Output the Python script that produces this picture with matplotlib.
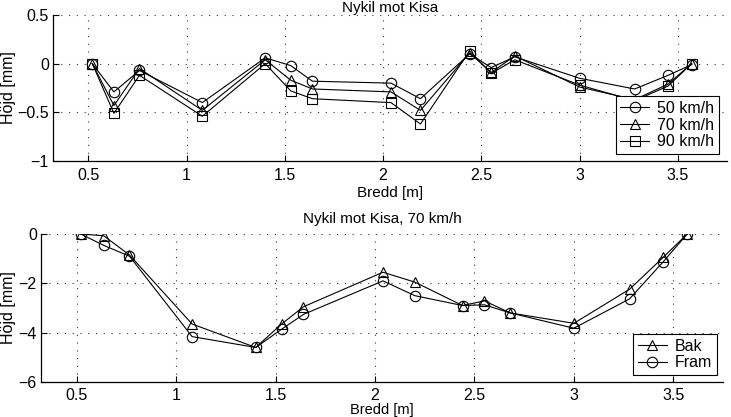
import matplotlib
matplotlib.use('Agg')
import matplotlib.pyplot as plt

plt.rcParams['font.family'] = ['Liberation Sans', 'DejaVu Sans']
plt.rcParams['font.size'] = 11
plt.rcParams['axes.unicode_minus'] = True

# top chart: three speeds
x_top = [0.52, 0.63, 0.76, 1.08, 1.40, 1.53, 1.64, 2.04, 2.19, 2.44, 2.55, 2.67, 3.00, 3.28, 3.45, 3.57]
v50 = [0.0, -0.29, -0.07, -0.40, 0.06, -0.02, -0.18, -0.20, -0.36, 0.10, -0.04, 0.07, -0.15, -0.26, -0.12, -0.01]
v70 = [0.0, -0.43, -0.05, -0.48, 0.04, -0.17, -0.26, -0.29, -0.48, 0.11, -0.09, 0.08, -0.24, -0.37, -0.21, 0.0]
v90 = [0.0, -0.51, -0.12, -0.54, 0.00, -0.28, -0.36, -0.40, -0.62, 0.13, -0.10, 0.04, -0.22, -0.38, -0.23, 0.0]
top_labels = ['50 km/h', '70 km/h', '90 km/h']
top_yticks = [-1, -0.5, 0, 0.5]

# bottom chart: 70 km/h, back and front
x_bot = [0.52, 0.635, 0.765, 1.08, 1.40, 1.53, 1.64, 2.04, 2.20, 2.44, 2.55, 2.68, 3.00, 3.28, 3.45, 3.57]
bak = [0.0, -0.07, -0.85, -3.65, -4.6, -3.65, -2.95, -1.55, -1.95, -2.9, -2.71, -3.2, -3.62, -2.24, -0.94, 0.0]
fram = [0.0, -0.46, -0.9, -4.16, -4.6, -3.86, -3.26, -1.9, -2.5, -2.9, -2.87, -3.2, -3.82, -2.63, -1.12, 0.0]
bot_labels = ['Bak', 'Fram']
bot_yticks = [-6, -4, -2, 0]

xticks = [0.5, 1, 1.5, 2, 2.5, 3, 3.5]

W, H = 731, 417
fig = plt.figure(figsize=(W / 100, H / 100), dpi=100)
ax1 = fig.add_axes([53 / W, 1 - 161 / H, (727 - 53) / W, 146 / H])
ax2 = fig.add_axes([41 / W, 1 - 382 / H, (723 - 41) / W, 148 / H])

mk = dict(color='k', lw=0.8, markersize=7.5, markerfacecolor='none', markeredgewidth=0.8)
ax1.plot(x_top, v50, marker='o', label=top_labels[0], **mk)
ax1.plot(x_top, v70, marker='^', label=top_labels[1], **mk)
ax1.plot(x_top, v90, marker='s', label=top_labels[2], **mk)
ax2.plot(x_bot, bak, marker='^', label=bot_labels[0], **mk)
ax2.plot(x_bot, fram, marker='o', label=bot_labels[1], **mk)


def fmt(v):
    s = '%g' % v
    return s.replace('-', '\u2212')


for ax, yt, title, pad in [(ax1, top_yticks, 'Nykil mot Kisa', 2),
                           (ax2, bot_yticks, 'Nykil mot Kisa, 70 km/h', 8)]:
    ax.set_xlim(0.32, 3.75)
    ax.set_ylim(yt[0], yt[-1])
    ax.set_xticks(xticks)
    ax.set_xticklabels([fmt(v) for v in xticks])
    ax.set_yticks(yt)
    ax.set_yticklabels([fmt(v) for v in yt])
    ax.grid(True, color='#333333', lw=0.8, linestyle=(0, (1, 6)))
    ax.tick_params(direction='in', length=4, width=0.8, pad=5, labelsize=11.5)
    ax.tick_params(axis='y', pad=3)
    for s in ['top', 'right']:
        ax.spines[s].set_visible(False)
    for s in ['left', 'bottom']:
        ax.spines[s].set_linewidth(0.9)
    ax.set_ylabel('Höjd [mm]', fontsize=11.5)
    ax.set_title(title, fontsize=11, pad=pad)

ax1.set_xlabel('Bredd [m]', fontsize=11, labelpad=2)
ax2.tick_params(axis='x', pad=4)
ax2.set_xlabel('Bredd [m]', fontsize=10.5, labelpad=0)

ax1.yaxis.set_label_coords((16 - 53) / 674, 0.5)
ax2.yaxis.set_label_coords((16 - 41) / 682, 0.5)

for ax, anchor in [(ax1, (0.988, 0.048)), (ax2, (0.991, 0.047))]:
    leg = ax.legend(loc='lower right', bbox_to_anchor=anchor, fancybox=False,
                    framealpha=1, edgecolor='k', fontsize=11.5, handlelength=1.8,
                    handletextpad=0.5, labelspacing=0.1, borderpad=0.3,
                    borderaxespad=0)
    leg.get_frame().set_linewidth(0.8)

fig.savefig('out.png', dpi=100)
plt.close(fig)
